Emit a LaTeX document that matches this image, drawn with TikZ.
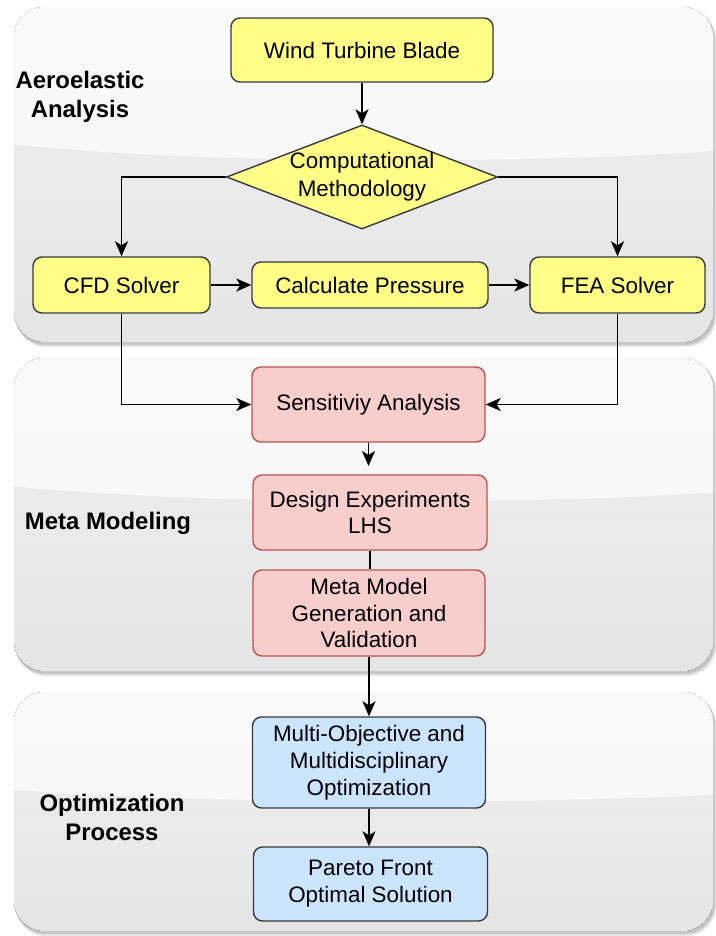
\documentclass[tikz,border=0pt]{standalone}
\usepackage{fontspec}
\setmainfont{Liberation Sans}
\usetikzlibrary{shapes.geometric,arrows.meta}

\definecolor{boxyellow}{HTML}{FFFF88}
\definecolor{boxpink}{HTML}{F8CECC}
\definecolor{edgepink}{HTML}{B85450}
\definecolor{boxblue}{HTML}{CCE5FF}
\definecolor{edgedark}{HTML}{36393D}
\definecolor{paneltop}{HTML}{F0F0F0}
\definecolor{panelbottom}{HTML}{E5E5E5}

% one grey glossy stage panel: #1 = top y, #2 = bottom y
\newcommand{\stagepanel}[2]{%
  \fill[black, opacity=0.10, rounded corners=30bp] (16,#1+3) rectangle (716,#2+5);
  \fill[black, opacity=0.14, rounded corners=30bp] (15,#1+2) rectangle (715,#2+3);
  \begin{scope}
    \clip[rounded corners=30bp] (14,#1) rectangle (713,#2);
    \fill[top color=paneltop, bottom color=panelbottom] (14,#1) rectangle (713,#2);
    \fill[white, opacity=0.65] (14,#1) -- (713,#1) -- (713,{#1+0.43*(#2-#1)})
      .. controls (520,{#1+0.47*(#2-#1)}) and (200,{#1+0.47*(#2-#1)}) .. (14,{#1+0.41*(#2-#1)}) -- cycle;
  \end{scope}
}

\begin{document}
\begin{tikzpicture}[x=1bp, y=-1bp,
  basebox/.style={rounded corners=9bp, line width=1.4bp, inner sep=0pt,
    align=center, font=\fontsize{22.5}{27}\selectfont},
  ybox/.style={basebox, draw=edgedark, fill=boxyellow},
  pbox/.style={basebox, draw=edgepink, fill=boxpink},
  bbox/.style={basebox, draw=edgedark, fill=boxblue},
  stagelabel/.style={align=center, font=\bfseries\fontsize{24}{29}\selectfont},
  arr/.style={line width=1.8bp, draw=black, -{Stealth[length=15bp,width=13bp,inset=4bp]}},
  link/.style={line width=1.8bp, draw=black}
]
\useasboundingbox (0,0) rectangle (716,936);

% stage panels
\stagepanel{7}{342}
\stagepanel{358}{671}
\stagepanel{692}{931}

% stage titles
\node[stagelabel] (laero) at (80,97) {Aeroelastic\\Analysis};
\node[stagelabel] (lmeta) at (108,523) {Meta Modeling};
\node[stagelabel] (lopt) at (112,817) {Optimization\\Process};

% aeroelastic analysis
\node[ybox, minimum width=262bp, minimum height=64bp] (wtb) at (362,50) {Wind Turbine Blade};
\node[diamond, draw=edgedark, fill=boxyellow, line width=1.4bp, inner sep=0pt,
      minimum width=271bp, minimum height=104bp] (meth) at (362,177) {};
\node[align=center, font=\fontsize{22.5}{28}\selectfont] (methtext) at (meth) {Computational\\Methodology};
\node[ybox, minimum width=177bp, minimum height=56bp] (cfd) at (121.5,285) {CFD Solver};
\node[ybox, minimum width=236bp, minimum height=46bp] (calc) at (370,285) {Calculate Pressure};
\node[ybox, minimum width=175bp, minimum height=56bp] (fea) at (617.5,285) {FEA Solver};

% meta modeling
\node[pbox, minimum width=233bp, minimum height=75bp] (sens) at (368.5,404.5) {Sensitiviy Analysis};
\node[pbox, minimum width=234bp, minimum height=75bp] (doe) at (370,512.5) {Design Experiments\\LHS};
\node[pbox, minimum width=232bp, minimum height=86bp] (meta) at (369,613) {Meta Model\\Generation and\\Validation};

% optimization process
\node[bbox, minimum width=233bp, minimum height=91bp] (moo) at (369,762.5) {Multi-Objective and\\Multidisciplinary\\Optimization};
\node[bbox, minimum width=234bp, minimum height=74bp] (pareto) at (370.5,884) {Pareto Front\\Optimal Solution};

% connectors
\coordinate (doetip) at (368.5,466);
\draw[arr] (wtb.south) -- (meth.north);
\draw[arr] (meth.west) -| (cfd.north);
\draw[arr] (meth.east) -| (fea.north);
\draw[arr] (cfd.east) -- (calc.west);
\draw[arr] (calc.east) -- (fea.west);
\draw[arr] (cfd.south) |- (sens.west);
\draw[arr] (fea.south) |- (sens.east);
\draw[arr] (sens.south) -- (doetip);
\draw[link] (doe.south) -- (doe.south |- meta.north);
\draw[arr] (meta.south) -- (meta.south |- moo.north);
\draw[arr] (moo.south) -- (moo.south |- pareto.north);
\end{tikzpicture}
\end{document}
